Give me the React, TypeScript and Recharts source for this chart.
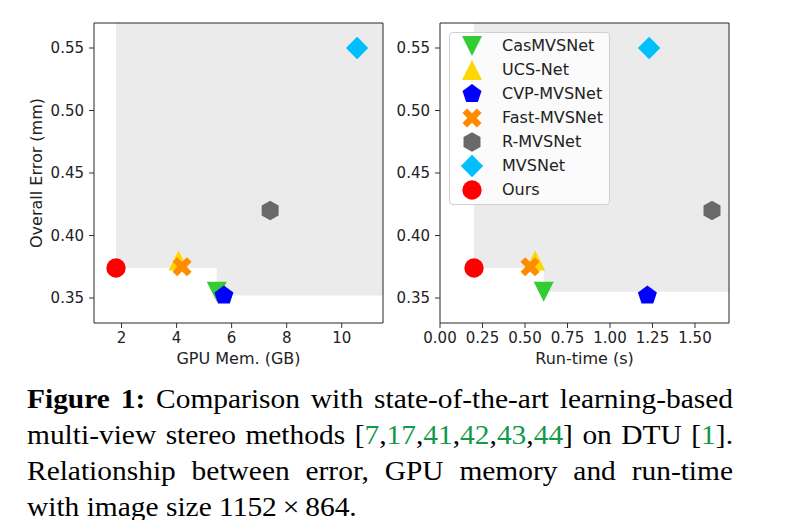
import React from 'react';
import { ScatterChart, Scatter, XAxis, YAxis, ReferenceArea, Legend } from 'recharts';

const methods = ['CasMVSNet', 'UCS-Net', 'CVP-MVSNet', 'Fast-MVSNet', 'R-MVSNet', 'MVSNet', 'Ours'];
const colors = ['#33cc33', '#ffd700', '#0000ff', '#ff8c00', '#696969', '#00bfff', '#ff0000'];
const markers = ['triangleDown', 'triangleUp', 'pentagon', 'cross', 'hexagon', 'diamond', 'circle'];
const errorMm = [0.355, 0.38, 0.352, 0.375, 0.42, 0.55, 0.374];
const gpuMemGb = [5.46, 4.07, 5.72, 4.2, 7.4, 10.56, 1.8];
const runTimeS = [0.61, 0.56, 1.22, 0.53, 1.6, 1.23, 0.2];

const memTicks = [2, 4, 6, 8, 10];
const timeTicks = [0, 0.25, 0.5, 0.75, 1.0, 1.25, 1.5];
const errorTicks = [0.35, 0.4, 0.45, 0.5, 0.55];
const memDomain: [number, number] = [1, 11.5];
const timeDomain: [number, number] = [0, 1.7];
const errorDomain: [number, number] = [0.33, 0.57];

// dominated (shaded) regions: lower-left corner, extends to the upper-right of the axes
const memShade = [{ x: 1.8, y: 0.374 }, { x: 5.46, y: 0.352 }];
const timeShade = [{ x: 0.2, y: 0.374 }, { x: 0.61, y: 0.355 }];

const FONT = "'DejaVu Sans', sans-serif";
const SHADE = '#ebebeb';
const INK = '#222';

function poly(cx: number, cy: number, n: number, r: number, start: number) {
  const pts: string[] = [];
  for (let k = 0; k < n; k++) {
    const a = ((start + (360 / n) * k) * Math.PI) / 180;
    pts.push(`${cx + r * Math.cos(a)},${cy + r * Math.sin(a)}`);
  }
  return pts.join(' ');
}

function Marker({ kind, cx, cy, color }: { kind: string; cx: number; cy: number; color: string }) {
  if (cx == null || cy == null) return null;
  switch (kind) {
    case 'circle':
      return <circle cx={cx} cy={cy} r={9.7} fill={color} />;
    case 'triangleUp':
      return <polygon points={`${cx},${cy - 10} ${cx - 10},${cy + 10} ${cx + 10},${cy + 10}`} fill={color} />;
    case 'triangleDown':
      return <polygon points={`${cx},${cy + 10} ${cx - 10},${cy - 10} ${cx + 10},${cy - 10}`} fill={color} />;
    case 'pentagon':
      return <polygon points={poly(cx, cy, 5, 10, -90)} fill={color} />;
    case 'hexagon':
      return <polygon points={poly(cx, cy, 6, 9.8, -90)} fill={color} />;
    case 'diamond':
      return <polygon points={poly(cx, cy, 4, 11.2, -90)} fill={color} />;
    case 'cross': {
      const L = 10.2, t = 3.3;
      const base = [[-t, -L], [t, -L], [t, -t], [L, -t], [L, t], [t, t], [t, L], [-t, L], [-t, t], [-L, t], [-L, -t], [-t, -t]];
      const c = Math.SQRT1_2;
      const pts = base.map(([x, y]) => `${cx + (x - y) * c},${cy + (x + y) * c}`).join(' ');
      return <polygon points={pts} fill={color} />;
    }
    default:
      return null;
  }
}

const tickStyle = { fontFamily: FONT, fontSize: 15, fill: INK };

function YLabel(props: any) {
  const vb = props.viewBox || {};
  const x = vb.x + 28.7;
  const y = vb.y + vb.height / 2;
  return (
    <text x={x} y={y} transform={`rotate(-90 ${x} ${y})`} textAnchor="middle" dominantBaseline="central"
      style={{ fontFamily: FONT, fontSize: 16, fill: INK }}>
      Overall Error (mm)
    </text>
  );
}

function XLabel(props: any) {
  const vb = props.viewBox || {};
  return (
    <text x={vb.x + vb.width / 2} y={vb.y + 41} textAnchor="middle"
      style={{ fontFamily: FONT, fontSize: 16, fill: INK }}>
      {props.text}
    </text>
  );
}

function LegendBox() {
  return (
    <div style={{
      border: '1px solid #d0d0d0', borderRadius: 4, background: 'rgba(255,255,255,0.8)',
      width: 159, paddingTop: 1, paddingBottom: 2, fontFamily: FONT, fontSize: 16, color: INK,
      boxSizing: 'content-box',
    }}>
      {methods.map((m, i) => (
        <div key={m} style={{ height: 24, display: 'flex', alignItems: 'center', position: 'relative' }}>
          <svg width={44} height={24} style={{ display: 'block' }}>
            <Marker kind={markers[i]} cx={22} cy={12} color={colors[i]} />
          </svg>
          <span style={{ marginLeft: 8, whiteSpace: 'nowrap', lineHeight: '24px' }}>{m}</span>
        </div>
      ))}
    </div>
  );
}

function Panel({ xs, domain, ticks, shade, xLabel, yWidth, width, rightMargin, fmt, legend }: any) {
  return (
    <ScatterChart width={width} height={365} margin={{ top: 15, right: rightMargin, left: 0, bottom: 0 }}>
      <XAxis type="number" dataKey="x" domain={domain} ticks={ticks} allowDataOverflow
        tick={tickStyle} tickSize={5} tickMargin={4} axisLine={false} tickLine={{ stroke: '#333' }}
        tickFormatter={fmt} height={50} interval={0}
        label={<XLabel text={xLabel} />} />
      <YAxis type="number" dataKey="y" domain={errorDomain} ticks={errorTicks} allowDataOverflow
        tick={tickStyle} tickSize={5} tickMargin={5} axisLine={false} tickLine={{ stroke: '#333' }}
        tickFormatter={(v: number) => v.toFixed(2)} width={yWidth}
        label={xLabel.startsWith('GPU') ? <YLabel /> : undefined} />
      {shade.map((s: any, i: number) => (
        <ReferenceArea key={i} x1={s.x} x2={domain[1]} y1={s.y} y2={errorDomain[1]}
          fill={SHADE} fillOpacity={1} stroke="none" ifOverflow="visible" />
      ))}
      {methods.map((m, i) => (
        <Scatter key={m} name={m} data={[{ x: xs[i], y: errorMm[i] }]} fill={colors[i]}
          isAnimationActive={false}
          shape={(p: any) => <Marker kind={markers[i]} cx={p.cx} cy={p.cy} color={colors[i]} />} />
      ))}
      <ReferenceArea x1={domain[0]} x2={domain[1]} y1={errorDomain[0]} y2={errorDomain[1]}
        fill="none" stroke="#262626" strokeWidth={1} ifOverflow="visible" />
      {legend ? (
        <Legend layout="vertical" align="center" verticalAlign="middle"
          wrapperStyle={{ left: 59, top: 24, width: 'auto' }}
          content={() => <LegendBox />} />
      ) : null}
    </ScatterChart>
  );
}

const green = (s: string) => <span style={{ color: '#12994a' }}>{s}</span>;

const CAPTION_SCALE = 1.09;

export default function App() {
  const lineStyle: React.CSSProperties = { height: 36, lineHeight: '36px', whiteSpace: 'nowrap', overflow: 'visible' };
  const just: React.CSSProperties = { ...lineStyle, textAlign: 'justify', textAlignLast: 'justify' as any, whiteSpace: 'normal' };
  return (
    <div style={{ position: 'relative', width: 770, height: 512 }}>
      <div style={{ position: 'absolute', left: 0, top: 0 }}>
        <Panel xs={gpuMemGb} domain={memDomain} ticks={memTicks} shade={memShade} xLabel="GPU Mem. (GB)"
          yWidth={86} width={382} rightMargin={7} fmt={(v: number) => String(v)} legend={false} />
      </div>
      <div style={{ position: 'absolute', left: 382, top: 0 }}>
        <Panel xs={runTimeS} domain={timeDomain} ticks={timeTicks} shade={timeShade} xLabel="Run-time (s)"
          yWidth={50} width={347} rightMargin={8} fmt={(v: number) => v.toFixed(2)} legend={true} />
      </div>
      <div style={{
        position: 'absolute', left: 19, top: 372.7, width: 706 / CAPTION_SCALE,
        transform: `scaleX(${CAPTION_SCALE})`, transformOrigin: '0 0',
        fontFamily: "'Liberation Serif', 'Times New Roman', serif", fontSize: 27, color: '#000',
      }}>
        <div style={just}><b>Figure 1:</b> Comparison with state-of-the-art learning-based</div>
        <div style={just}>multi-view stereo methods [{green('7')},{green('17')},{green('41')},{green('42')},{green('43')},{green('44')}] on DTU [{green('1')}].</div>
        <div style={just}>Relationship between error, GPU memory and run-time</div>
        <div style={lineStyle}>with image size 1152{'\u2009'}×{'\u2009'}864.</div>
      </div>
    </div>
  );
}
